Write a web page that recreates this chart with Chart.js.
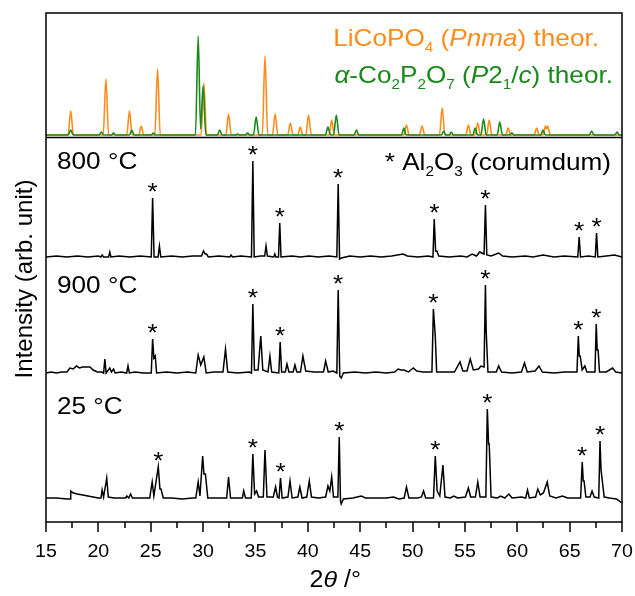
<!DOCTYPE html>
<html>
<head>
<meta charset="utf-8">
<script src="https://cdn.jsdelivr.net/npm/chart.js@4.4.1/dist/chart.umd.min.js"></script>
<style>
  html, body { margin: 0; padding: 0; background: #fff; }
  canvas { display: block; }
</style>
</head>
<body>
<canvas id="xrd" width="635" height="596"></canvas>
<script>
// X-ray powder diffraction patterns: theoretical references and samples at 800, 900 and 25 °C.
// Each pattern is a list of [2theta (deg), intensity (arb. unit)] points above its own baseline.

const xTickLabels = [15, 20, 25, 30, 35, 40, 45, 50, 55, 60, 65, 70];
const xMinorTicks = [17.5, 22.5, 27.5, 32.5, 37.5, 42.5, 47.5, 52.5, 57.5, 62.5, 67.5];

const patternLiCoPO4 = [
  [15,0],[17.1,0],[17.36,24],[17.62,0],
  [20.46,0],[20.72,56],[20.98,0],
  [22.71,0],[22.97,24],[23.23,0],
  [23.85,0],[24.09,9],[24.33,0],
  [25.39,0],[25.65,66],[25.91,0],
  [29.81,0],[30.07,52],[30.33,0],
  [32.17,0],[32.43,21],[32.69,0],
  [35.65,0],[35.91,79],[36.17,0],
  [36.62,0],[36.88,21],[37.14,0],
  [38.08,0],[38.33,12],[38.58,0],
  [39.04,0],[39.28,8],[39.52,0],
  [39.81,0],[40.07,20],[40.33,0],
  [42.03,0],[42.28,15],[42.53,0],
  [49.17,0],[49.42,10],[49.67,0],
  [50.66,0],[50.91,9],[51.16,0],
  [52.57,0],[52.83,27],[53.09,0],
  [55.08,0],[55.33,10],[55.58,0],
  [55.98,0],[56.23,12],[56.48,0],
  [57.07,0],[57.32,15],[57.57,0],
  [58.89,0],[59.13,7],[59.37,0],
  [61.61,0],[61.85,7],[62.09,0],
  [62.45,0],[62.7,9],[62.8,6],[62.9,9],[63.15,0],
  [70,0]
];

const patternCo2P2O7 = [
  [15,0],[17.12,0],[17.36,5],[17.6,0],
  [20.07,0],[20.29,3],[20.51,0],
  [21.25,0],[21.45,2],[21.65,0],
  [22.97,0],[23.19,5],[23.41,0],
  [25.05,0],[25.25,2],[25.45,0],
  [29.27,0],[29.53,99],[29.76,6],[30.0,49],[30.26,0],
  [31.37,0],[31.59,5],[31.81,0],
  [33.1,0],[33.3,1],[33.5,0],
  [34.04,0],[34.24,2],[34.44,0],
  [34.81,0],[35.07,18],[35.33,0],
  [41.68,0],[41.92,8],[42.16,0],
  [42.46,0],[42.72,20],[42.98,0],
  [44.42,0],[44.64,5],[44.86,0],
  [48.95,0],[49.17,7],[49.39,0],
  [52.77,0],[52.97,4],[53.17,0],
  [53.5,0],[53.7,3],[53.9,0],
  [55.76,0],[55.98,7],[56.2,0],
  [56.53,0],[56.78,16],[57.03,0],
  [58.08,0],[58.33,13],[58.58,0],
  [59.29,0],[59.49,2],[59.69,0],
  [62.24,0],[62.46,5],[62.68,0],
  [66.88,0],[67.1,4],[67.32,0],
  [69.31,0],[69.53,3],[69.75,0],
  [70,0]
];

const pattern800 = [
  [15,0],[16,1],[17,0],[18,1],[19,0],[20,1],[20.25,0],[20.36,2],[20.5,0],[20.98,0],[21.09,5],[21.2,0],
  [22,1],[23,0],[24,1],[25.05,0],[25.18,59],[25.32,0],[25.7,0],[25.83,11],[25.96,0],[27,1],[28,0],[29,1],
  [29.85,1],[30.04,6],[30.2,3],[30.33,3],[30.5,0],[31.5,1],[32.55,0],[32.68,2],[32.8,0],[33.6,1],
  [34.62,0],[34.75,96],[34.88,0],[35.5,1],[35.88,1],[36.01,11],[36.14,1],[36.75,0],[36.85,3],[36.95,0],
  [37.2,0],[37.32,34],[37.44,0],[38.48,1],[39.3,0],[40.11,1],[41,0],[42,1],[42.77,0],[42.9,73],[43.03,-2],
  [43.2,-1],[44,1],[45,0],[46,1],[47,0],[48,1],[49.09,3],[49.5,1],[50.5,0],[51.5,1],[51.95,0],[52.07,38],
  [52.2,6],[52.32,6],[52.5,1],[53.5,0],[54.6,1],[55.2,0],[55.69,3],[56.1,1],[56.41,5],[56.83,3],[56.96,52],
  [57.09,2],[57.5,1],[58.22,4],[58.6,1],[59.5,0],[60.76,1],[61.5,0],[62.46,2],[63.5,0],[64.5,1],[65.78,0],
  [65.91,20],[66.04,0],[66.8,1],[67.45,0],[67.57,24],[67.69,0],[68.5,1],[69.28,2],[70,0]
];

const pattern900 = [
  [15,0],[15.5,1],[16,0],[16.5,1],[17,1],[17.28,5],[17.6,4],[17.9,7],[18.2,5],[18.5,6],[18.8,6],[19.2,6],
  [19.5,3],[19.9,1],[20.3,1],[20.5,0],[20.62,14],[20.74,0],[21.09,5],[21.25,1],[21.45,4],[21.6,0],[22.2,1],
  [22.7,0],[22.83,7],[22.96,0],[23.5,1],[24.3,0],[25.05,0],[25.18,34],[25.3,15],[25.43,17],[25.56,0],
  [26.5,1],[27.5,0],[28.5,1],[29.3,0],[29.53,18],[29.78,8],[30.07,16],[30.3,0],[31,1],[31.9,1],[32.14,24],
  [32.35,1],[33.3,0],[34.4,1],[34.62,0],[34.75,69],[34.9,3],[35.25,3],[35.51,37],[35.7,3],[36.2,1],
  [36.38,17],[36.55,1],[37.23,0],[37.36,31],[37.5,1],[37.85,1],[38.01,9],[38.2,1],[38.6,1],[38.77,8],
  [38.95,1],[39.3,1],[39.53,17],[39.8,2],[40.6,1],[41.5,1],[41.7,12],[41.95,1],[42.4,2],[42.77,0],[42.9,83],
  [43.05,-3],[43.19,-5],[43.4,0],[44.5,1],[45.5,0],[46.5,1],[47.5,0],[48.3,1],[48.62,4],[48.9,3],[49.17,3],
  [49.6,1],[50.07,5],[50.4,2],[51,1],[51.85,1],[51.99,64],[52.17,37],[52.3,1],[53,1],[54,1],[54.53,11],
  [54.8,2],[55.2,2],[55.51,14],[55.8,3],[56.3,4],[56.52,7],[56.83,6],[56.96,88],[57.03,42],[57.2,1],[58,1],
  [58.22,7],[58.5,1],[59.5,0],[60.4,1],[60.69,10],[60.95,1],[61.7,2],[62.07,7],[62.4,1],[63.5,0],[64.5,1],
  [65.7,1],[65.83,37],[65.92,17],[66.01,17],[66.2,3],[66.45,7],[66.65,1],[67.42,1],[67.54,49],[67.63,23],
  [67.72,23],[67.85,1],[68.5,1],[69.09,5],[69.4,1],[70,0]
];

const pattern25 = [
  [15,1],[16,1],[17,0],[17.3,0],[17.36,8],[17.6,6],[18,5],[18.5,4],[19,3],[19.5,2],[20,1],[20.25,1],
  [20.36,9],[20.5,2],[20.8,21],[20.95,2],[21.5,1],[22.2,1],[22.6,1],[22.72,3],[22.9,1],[23.08,5],[23.25,1],
  [24,1],[24.9,1],[25.14,17],[25.3,3],[25.72,32],[25.88,10],[25.98,10],[26.2,1],[27,1],[28,0],[29,1],
  [29.3,1],[29.53,17],[29.7,3],[29.96,43],[30.08,25],[30.22,25],[30.45,1],[31.5,1],[32.25,1],[32.43,22],
  [32.62,1],[33.3,1],[33.75,1],[33.88,8],[34.05,1],[34.6,1],[34.75,45],[34.92,5],[35.11,8],[35.3,2],
  [35.75,2],[35.91,49],[36.1,2],[36.7,2],[36.92,12],[37.1,2],[37.25,1],[37.39,21],[37.55,1],[38.1,2],
  [38.3,18],[38.5,1],[39.05,2],[39.24,12],[39.45,1],[39.9,2],[40.14,18],[40.35,2],[41,1],[41.7,2],
  [41.92,13],[42.1,8],[42.28,22],[42.45,2],[42.87,2],[43.0,62],[43.12,-2],[43.19,-5],[43.4,0],[44.3,1],
  [45.11,3],[45.5,1],[46.5,1],[47.5,1],[48.17,2],[48.7,0],[49.2,1],[49.42,12],[49.65,1],[50.5,1],
  [50.85,2],[51.05,8],[51.25,1],[52.0,1],[52.17,43],[52.35,8],[52.6,3],[52.9,34],[53.1,2],[53.6,1],
  [53.95,3],[54.3,1],[55.05,2],[55.33,11],[55.55,2],[56.0,2],[56.23,17],[56.45,2],[57.0,2],[57.14,90],
  [57.26,55],[57.32,55],[57.5,2],[58.1,1],[58.41,3],[58.8,1],[59.2,5],[59.5,1],[60.4,2],[60.8,1],
  [60.98,9],[61.15,1],[61.75,2],[61.96,10],[62.2,4],[62.5,6],[62.86,17],[63.1,3],[63.7,1],[64.31,3],
  [64.8,1],[65.5,1],[66.05,1],[66.2,37],[66.3,18],[66.38,18],[66.55,2],[66.95,2],[67.14,8],[67.35,2],
  [67.78,1],[67.9,58],[68.0,29],[68.08,29],[68.3,2],[68.8,1],[69.46,0],[70,-4]
];

// Al2O3 (corundum) reflections flagged with an asterisk in each sample
const corundum800 = [25.18, 34.75, 37.32, 42.9, 52.07, 56.96, 65.91, 67.57];
const corundum900 = [25.18, 34.75, 37.36, 42.9, 51.99, 56.96, 65.83, 67.54];
const corundum25  = [25.72, 34.75, 37.39, 43.0, 52.17, 57.14, 66.2, 67.9];

// vertical stacking of the patterns (intensity units)
const OFFSET = { theory: 387, s800: 265, s900: 149, s25: 23 };
const SEPARATOR = 385;

const FONT = '"Liberation Sans", Arial, Helvetica, sans-serif';
const ORANGE = '#ff8c1a';
const GREEN = '#1a8a1a';
const SX = 1.09;   // horizontal widening of the lettering

const shift = (pts, off) => pts.map(([x, y]) => ({ x: x, y: y + off }));

function lineSet(label, pts, off, color, width, order, smooth) {
  return {
    label: label, data: shift(pts, off), borderColor: color, borderWidth: width,
    pointRadius: 0, tension: 0, fill: false, order: order,
    cubicInterpolationMode: smooth ? 'monotone' : 'default'
  };
}

function text(ctx, str, x, y, align) {
  ctx.save();
  ctx.translate(x, y);
  ctx.scale(SX, 1);
  ctx.textAlign = align || 'left';
  ctx.fillText(str, 0, 0);
  ctx.restore();
}

// draw a run of text pieces: [text, style] with style '' | 'i' (italic) | 's' (subscript)
function richText(ctx, pieces, x, y, size, color, align) {
  const fontFor = (st) => (st.includes('i') ? 'italic ' : '') + (st.includes('s') ? Math.round(size * 0.6) : size) + 'px ' + FONT;
  let total = 0;
  for (const [t, st] of pieces) { ctx.font = fontFor(st); total += ctx.measureText(t).width * SX; }
  let cx = align === 'right' ? x - total : x;
  ctx.fillStyle = color;
  ctx.textBaseline = 'alphabetic';
  for (const [t, st] of pieces) {
    ctx.font = fontFor(st);
    text(ctx, t, cx, st.includes('s') ? y + size * 0.27 : y, 'left');
    cx += ctx.measureText(t).width * SX;
  }
}

const decor = {
  id: 'decor',
  beforeDraw(chart) {
    const ctx = chart.ctx;
    ctx.save();
    ctx.fillStyle = '#fff';
    ctx.fillRect(0, 0, chart.width, chart.height);
    ctx.restore();
  },
  afterDatasetsDraw(chart) {
    const ctx = chart.ctx;
    const a = chart.chartArea;
    const xs = chart.scales.x, ys = chart.scales.y;
    ctx.save();
    ctx.strokeStyle = '#000';
    ctx.lineWidth = 1.5;

    // panel separator below the theoretical patterns
    const sy = Math.round(ys.getPixelForValue(SEPARATOR)) + 0.5;
    ctx.beginPath(); ctx.moveTo(a.left, sy); ctx.lineTo(a.right, sy); ctx.stroke();

    // frame
    ctx.strokeRect(a.left, a.top, a.right - a.left, a.bottom - a.top);

    // bottom ticks, pointing outward
    ctx.beginPath();
    for (const v of xTickLabels) {
      const px = Math.round(xs.getPixelForValue(v));
      ctx.moveTo(px, a.bottom); ctx.lineTo(px, a.bottom + 10);
    }
    for (const v of xMinorTicks) {
      const px = Math.round(xs.getPixelForValue(v));
      ctx.moveTo(px, a.bottom); ctx.lineTo(px, a.bottom + 6);
    }
    ctx.stroke();

    ctx.fillStyle = '#000';
    ctx.textBaseline = 'alphabetic';
    ctx.font = '18px ' + FONT;
    for (const v of xTickLabels) text(ctx, String(v), xs.getPixelForValue(v), a.bottom + 35, 'center');

    // x axis title: 2θ/°
    richText(ctx, [['2', ''], ['\u03b8', 'i'], [' /\u00b0', '']], 361, 587, 23, '#000', 'right');

    // y axis title
    ctx.save();
    ctx.translate(32, 279);
    ctx.rotate(-Math.PI / 2);
    ctx.textAlign = 'center';
    ctx.font = '24px ' + FONT;
    ctx.fillText('Intensity (arb. unit)', 0, 0);
    ctx.restore();

    // sample labels
    ctx.font = '24px ' + FONT;
    text(ctx, '800 \u00b0C', 57, 169, 'left');
    text(ctx, '900 \u00b0C', 57, 293, 'left');
    text(ctx, '25 \u00b0C', 57, 414, 'left');

    richText(ctx, [['* Al', ''], ['2', 's'], ['O', ''], ['3', 's'], [' (corumdum)', '']], 611, 170, 24, '#000', 'right');
    richText(ctx, [['LiCoPO', ''], ['4', 's'], [' (', ''], ['Pnma', 'i'], [') theor.', '']], 599, 46, 24, ORANGE, 'right');
    richText(ctx, [['\u03b1', 'i'], ['-Co', ''], ['2', 's'], ['P', ''], ['2', 's'], ['O', ''], ['7', 's'],
                   [' (', ''], ['P', 'i'], ['2', ''], ['1', 's'], ['/', ''], ['c', 'i'], [') theor.', '']],
             613, 83, 24, GREEN, 'right');

    // asterisks above the corundum reflections
    ctx.fillStyle = '#000';
    ctx.font = '24px ' + FONT;
    const mark = (pts, off, list) => {
      for (const pos of list) {
        let top = -Infinity;
        for (const [x, y] of pts) if (Math.abs(x - pos) <= 0.2 && y > top) top = y;
        const py = ys.getPixelForValue(top + off);
        text(ctx, '*', xs.getPixelForValue(pos), py + 2, 'center');
      }
    };
    mark(pattern800, OFFSET.s800, corundum800);
    mark(pattern900, OFFSET.s900, corundum900);
    mark(pattern25, OFFSET.s25, corundum25);
    ctx.restore();
  }
};

new Chart(document.getElementById('xrd'), {
  type: 'line',
  data: {
    datasets: [
      lineSet('\u03b1-Co2P2O7 theor.', patternCo2P2O7, OFFSET.theory, GREEN, 1.6, 0, true),
      lineSet('LiCoPO4 theor.', patternLiCoPO4, OFFSET.theory, ORANGE, 1.6, 1, true),
      lineSet('800 \u00b0C', pattern800, OFFSET.s800, '#000', 1.5, 2, false),
      lineSet('900 \u00b0C', pattern900, OFFSET.s900, '#000', 1.5, 3, false),
      lineSet('25 \u00b0C', pattern25, OFFSET.s25, '#000', 1.5, 4, false)
    ]
  },
  options: {
    responsive: false,
    animation: false,
    devicePixelRatio: 1,
    layout: { padding: { left: 46, right: 13, top: 13, bottom: 74 } },
    scales: {
      x: { type: 'linear', min: 15, max: 70, display: false },
      y: { type: 'linear', min: 0, max: 509, display: false }
    },
    plugins: { legend: { display: false }, tooltip: { enabled: false } }
  },
  plugins: [decor]
});
</script>
</body>
</html>
